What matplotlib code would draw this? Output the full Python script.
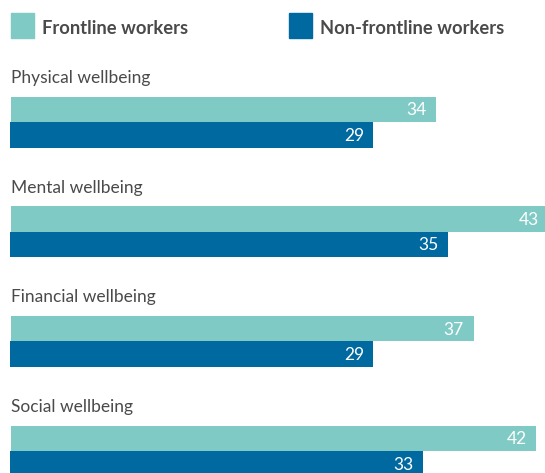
import matplotlib
matplotlib.use("Agg")
import matplotlib.pyplot as plt
from matplotlib.patches import Rectangle

categories = ["Physical wellbeing", "Mental wellbeing", "Financial wellbeing", "Social wellbeing"]
frontline = [34, 43, 37, 42]
non_frontline = [29, 35, 29, 33]
series_names = ["Frontline workers", "Non-frontline workers"]

TEAL = "#7fcac5"
BLUE = "#0069a0"
TEXT = "#4a4a4a"

W, H = 545, 473
plt.rcParams["font.family"] = ["Lato", "DejaVu Sans"]
fig = plt.figure(figsize=(W / 100, H / 100), dpi=100)

# bar axes: x in data units, y in pixel rows from the top
ax = fig.add_axes([10 / W, 0, (W - 10) / W, 1])
ax.set_xlim(0, 42.75)
ax.set_ylim(H, 0)
ax.axis("off")

group_step = 109.7
bar_h = 25.5
first_top = 96.5

for i, cat in enumerate(categories):
    top = first_top + i * group_step
    ax.barh(top + bar_h / 2, frontline[i], height=bar_h, color=TEAL, align="center", left=0.05)
    ax.barh(top + bar_h * 1.5, non_frontline[i], height=bar_h, color=BLUE, align="center")
    ax.text(frontline[i] - 0.72, top + bar_h / 2 + 1, str(frontline[i]), color="white",
            ha="right", va="center", fontsize=12.5)
    ax.text(non_frontline[i] - 0.72, top + bar_h * 1.5 + 1, str(non_frontline[i]), color="white",
            ha="right", va="center", fontsize=12.5)
    # category label above each pair
    fig.text(11 / W, 1 - (top - 13.5) / H, cat, color=TEXT, fontsize=12.5,
             ha="left", va="baseline")

# legend drawn in figure pixels
for x0, name, col in [(11, series_names[0], TEAL), (289, series_names[1], BLUE)]:
    fig.patches.append(Rectangle((x0 / W, 1 - 38 / H), 23 / W, 25 / H,
                                 transform=fig.transFigure, color=col))
    fig.text((x0 + 31) / W, 1 - 33.5 / H, name, color=TEXT, fontsize=13.2,
             fontweight="bold", ha="left", va="baseline")

fig.savefig("out.png", dpi=100, facecolor="white")
